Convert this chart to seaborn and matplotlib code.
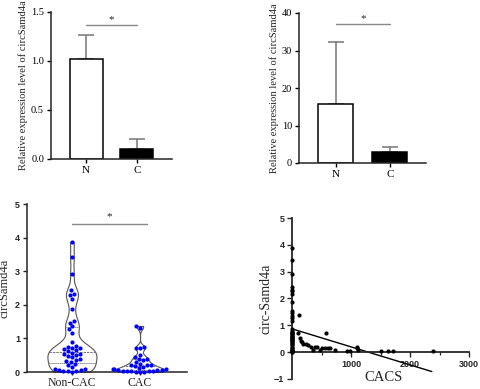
import numpy as np
import pandas as pd
import matplotlib
matplotlib.use("Agg")
import matplotlib.pyplot as plt
import seaborn as sns

# ---------------- data ----------------
bar_groups = ["N", "C"]
panel_a_mean = [1.02, 0.10]
panel_a_err = [0.25, 0.10]
panel_b_mean = [15.7, 3.0]
panel_b_err = [16.7, 1.3]

noncac_vals = [3.87, 3.42, 2.93, 2.43, 2.33, 2.29, 2.18, 1.87, 1.53, 1.47, 1.36,
               1.27, 1.17, 0.88, 0.78, 0.75, 0.72, 0.70, 0.67, 0.65, 0.62, 0.58,
               0.55, 0.53, 0.50, 0.47, 0.44, 0.40, 0.37, 0.33, 0.30, 0.25, 0.20,
               0.15, 0.10, 0.08, 0.06, 0.05, 0.04, 0.03, 0.02, 0.01]
cac_vals = [1.37, 1.32, 0.75, 0.72, 0.70, 0.52, 0.45, 0.40, 0.38, 0.35, 0.30,
            0.25, 0.22, 0.20, 0.20, 0.18, 0.15, 0.12, 0.10, 0.10, 0.08, 0.06,
            0.05, 0.05, 0.04, 0.03, 0.03, 0.02, 0.02, 0.01, 0.01, 0.0]
violin_groups = ["Non-CAC", "CAC"]

cacs_scores = [119, 107, 136, 147, 164, 192, 237, 277, 322, 350, 390, 430, 475,
               503, 576, 560, 616, 644, 729, 927, 983, 1096, 1107, 1124, 1508,
               1633, 1718, 2395]
cacs_circ = [1.38, 0.70, 0.51, 0.42, 0.39, 0.32, 0.29, 0.26, 0.20, 0.07, 0.20,
             0.20, 0.07, 0.16, 0.73, 0.14, 0.17, 0.14, 0.07, 0.05, 0.05, 0.20,
             0.16, 0.07, 0.03, 0.03, 0.04, 0.03]
fit_intercept = 0.87
fit_slope = -0.000672
fit_x_range = [0, 2370]

# ---------------- style ----------------
sns.set_style("ticks")
plt.rcParams["font.family"] = ["Liberation Serif", "DejaVu Serif"]
plt.rcParams["axes.linewidth"] = 1.1
SANS = ["Liberation Sans", "DejaVu Sans"]

W, H = 480, 389
fig = plt.figure(figsize=(4.8, 3.89), dpi=100)


def add_ax(left, right, top, bottom):
    return fig.add_axes([left / W, 1 - bottom / H, (right - left) / W, (bottom - top) / H])


def bar_panel(ax, means, errs, ylim, yticks, sig_y, star_y):
    df = pd.DataFrame({"g": bar_groups, "v": means})
    sns.barplot(data=df, x="g", y="v", ax=ax, errorbar=None, width=0.65,
                color="white", edgecolor="black", linewidth=1.1, zorder=2)
    ax.patches[1].set_facecolor("black")
    ax.errorbar([0, 1], means, yerr=[[0, 0], errs], fmt="none", ecolor="#777777",
                elinewidth=1.1, capsize=6, capthick=1.1, zorder=1)
    ax.set_ylim(*ylim)
    ax.set_yticks(yticks)
    ax.set_xlabel("")
    ax.set_ylabel("Relative expression level of circSamd4a", fontsize=7.6, labelpad=2)
    ax.tick_params(axis="both", labelsize=7.5, length=3, width=1.0, pad=2,
                   colors="black")
    ax.tick_params(axis="x", labelsize=8)
    ax.plot([0, 1], [sig_y, sig_y], color="#888888", lw=1.0, clip_on=False)
    ax.text(0.5, star_y, "*", ha="center", va="center", fontsize=8, clip_on=False)
    sns.despine(ax=ax)


# panel A
ax1 = add_ax(51, 172, 12, 159)
bar_panel(ax1, panel_a_mean, panel_a_err, (0, 1.5), [0.0, 0.5, 1.0, 1.5], 1.367, 1.42)
ax1.set_yticklabels(["0.0", "0.5", "1.0", "1.5"])
ax1.set_xlim(-0.69, 1.69)

# panel B
ax2 = add_ax(299, 426, 13, 163)
bar_panel(ax2, panel_b_mean, panel_b_err, (0, 40), [0, 10, 20, 30, 40], 37.1, 38.6)
ax2.set_xlim(-0.685, 1.67)

# panel C: violin
ax3 = add_ax(27, 187, 204, 372)
vdf = pd.DataFrame({
    "group": ["Non-CAC"] * len(noncac_vals) + ["CAC"] * len(cac_vals),
    "value": noncac_vals + cac_vals,
})
sns.violinplot(data=vdf, x="group", y="value", order=violin_groups, ax=ax3,
               cut=0, inner="quart", density_norm="width", width=0.72,
               bw_adjust=0.45, color="white", linecolor="#555555", linewidth=0.8,
               inner_kws={"color": "#777777", "linewidth": 0.7})
sns.swarmplot(data=vdf, x="group", y="value", order=violin_groups, ax=ax3,
              color="#0000FF", size=3.0, zorder=3, clip_on=False)
ax3.set_ylim(0, 5)
ax3.set_xlim(-0.66, 1.69)
ax3.set_yticks([0, 1, 2, 3, 4, 5])
ax3.set_xlabel("")
ax3.set_ylabel("circSamd4a", fontsize=9, labelpad=3)
ax3.tick_params(axis="y", length=3, width=1.0, pad=2, labelsize=6.5)
ax3.tick_params(axis="x", length=2.5, width=1.0, pad=1, labelsize=8.5)
for lab in ax3.get_yticklabels():
    lab.set_family(SANS)
    lab.set_fontweight("bold")
ax3.plot([0, 1.1], [4.4, 4.4], color="#888888", lw=1.0, clip_on=False)
ax3.text(0.55, 4.62, "*", ha="center", va="center", fontsize=8)
sns.despine(ax=ax3)

# panel D: scatter + fit
ax4 = add_ax(292, 469, 218, 379)
sx = [0] * len(noncac_vals) + cacs_scores
sy = noncac_vals + cacs_circ
sns.scatterplot(x=sx, y=sy, ax=ax4, color="black", s=9, linewidth=0,
                clip_on=False, zorder=3)
fx = np.array(fit_x_range, dtype=float)
sns.lineplot(x=fx, y=fit_intercept + fit_slope * fx, ax=ax4, color="black",
             lw=1.0, clip_on=False)
ax4.set_xlim(0, 3000)
ax4.set_ylim(-1, 5)
ax4.set_xticks([1000, 2000, 3000])
ax4.set_xticks([500, 1500, 2500], minor=True)
ax4.set_yticks([-1, 0, 1, 2, 3, 4, 5])
ax4.spines["bottom"].set_position(("data", 0))
sns.despine(ax=ax4)
ax4.spines["bottom"].set_linewidth(1.3)
ax4.spines["left"].set_linewidth(1.3)
ax4.tick_params(axis="both", which="major", length=3.5, width=1.0, pad=2,
                labelsize=6.5)
ax4.tick_params(axis="x", which="minor", length=2, width=0.9)
for lab in ax4.get_xticklabels() + ax4.get_yticklabels():
    lab.set_family(SANS)
    lab.set_fontweight("bold")
ax4.set_ylabel("circ-Samd4a", fontsize=10, labelpad=1)
ax4.set_xlabel("")
ax4.text(0.52, 0.01, "CACS", transform=ax4.transAxes, ha="center", va="center",
         fontsize=10.5)

fig.savefig("out.png", dpi=100)
